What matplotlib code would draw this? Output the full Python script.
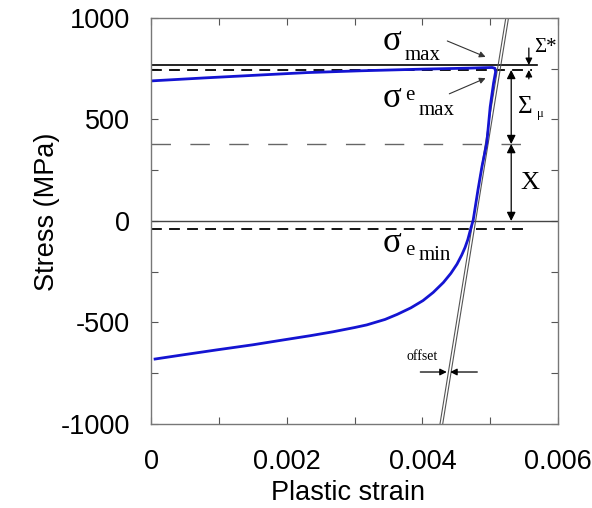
import numpy as np
import matplotlib
matplotlib.use("Agg")
import matplotlib.pyplot as plt

plt.rcParams['axes.unicode_minus'] = False

# 数据: 应力-塑性应变滞回曲线 (下支 -> 上升段 -> 上支)
strain = [0.00006, 0.00050, 0.00097, 0.00150, 0.00195, 0.00235, 0.00268, 0.00300,
          0.00318, 0.00345, 0.00363, 0.00383, 0.00401, 0.00416, 0.00431, 0.00442,
          0.00451, 0.00458, 0.00463, 0.00467, 0.00471, 0.00475, 0.00482,
          0.00488, 0.00495, 0.00500, 0.00505, 0.00508, 0.00507, 0.00503,
          0.00490, 0.00470, 0.00400, 0.00310, 0.00230, 0.00160, 0.00080, 0.0]
stress = [-680, -658, -635, -610, -586, -565, -546, -525,
          -512, -485, -460, -428, -392, -352, -303, -258,
          -213, -168, -130, -92, -42, 5, 153,
          270, 384, 562, 680, 735, 752, 756,
          755, 753, 748, 740, 731, 719, 705, 690]

# 弹性卸载线 (两条平行线)
elastic_strain = [0.00426, 0.00523]
elastic_stress = [-1000, 1000]
offset_shift = 0.00004

# 水平参考线
sigma_max = 768
sigma_e_max = 744
back_stress = 379
sigma_e_min = -39

serif = 'Liberation Serif'
sans = 'Liberation Sans'
fs = 19.5

fig = plt.figure(figsize=(5.92, 5.08), dpi=100)
ax = fig.add_axes([0.2551, 0.1654, 0.6875, 0.7992])

# 参考线
ax.plot([0, 0.00569], [sigma_max, sigma_max], color='black', lw=1.2)
ax.plot([0, 0.00562], [sigma_e_max, sigma_e_max], color='black', lw=1.3, dashes=(6, 4))
ax.plot([0, 0.00569], [back_stress, back_stress], color='#666666', lw=1.0, dashes=(14, 14))
ax.axhline(0, color='#444444', lw=1.0)
ax.plot([0, 0.00559], [sigma_e_min, sigma_e_min], color='black', lw=1.3, dashes=(6, 4))

# 弹性线
ax.plot(elastic_strain, elastic_stress, color='#555555', lw=0.8)
ax.plot(np.array(elastic_strain) + offset_shift, elastic_stress, color='#555555', lw=0.8)

# 曲线
ax.plot(strain, stress, color='#1414d2', lw=2.0, solid_joinstyle='round')

ax.set_xlim(0, 0.006)
ax.set_ylim(-1000, 1000)
ax.set_xticks([0, 0.002, 0.004, 0.006])
ax.set_xticklabels(['0', '0.002', '0.004', '0.006'])
ax.set_xticks([0.001, 0.003, 0.005], minor=True)
ax.set_yticks([-1000, -500, 0, 500, 1000])
ax.set_yticks([-750, -250, 250, 750], minor=True)
ax.tick_params(which='both', direction='in', top=True, right=True, color='#555555',
               length=5, width=0.8, labelsize=fs)
ax.tick_params(axis='x', which='both', pad=18)
ax.tick_params(axis='y', which='both', pad=15)
for lab in ax.get_xticklabels() + ax.get_yticklabels():
    lab.set_family(sans)
for s in ax.spines.values():
    s.set_color('#777777')
    s.set_linewidth(1.0)

ax.set_xlabel('Plastic strain', fontsize=fs, family=sans)
ax.set_ylabel('Stress (MPa)', fontsize=fs, family=sans)
ax.xaxis.set_label_coords(0.483, -0.138)
ax.yaxis.set_label_coords(-0.224, 0.522)

# 标注
ax.text(0.00342, 842, 'σ', fontsize=25, family=serif, va='baseline')
ax.text(0.00374, 793, 'max', fontsize=15, family=serif, va='baseline')
ax.text(0.00342, 562, 'σ', fontsize=25, family=serif, va='baseline')
ax.text(0.00374, 596, 'e', fontsize=15, family=serif, va='baseline')
ax.text(0.00394, 522, 'max', fontsize=15, family=serif, va='baseline')
ax.text(0.00342, -153, 'σ', fontsize=25, family=serif, va='baseline')
ax.text(0.00374, -167, 'e', fontsize=15, family=serif, va='baseline')
ax.text(0.00394, -192, 'min', fontsize=15, family=serif, va='baseline')

thin = dict(arrowstyle='-|>', color='#333333', lw=0.8, mutation_scale=9)
ax.annotate('', xy=(0.00497, 803), xytext=(0.00433, 892), arrowprops=thin)
ax.annotate('', xy=(0.00497, 709), xytext=(0.00436, 621), arrowprops=thin)

big = dict(arrowstyle='<|-|>', color='black', lw=0.9, mutation_scale=13, shrinkA=0, shrinkB=0)
ax.annotate('', xy=(0.00531, sigma_e_max), xytext=(0.00531, back_stress), arrowprops=big)
ax.annotate('', xy=(0.00531, back_stress), xytext=(0.00531, 0), arrowprops=big)

one = dict(arrowstyle='-|>', color='black', lw=0.9, mutation_scale=10, shrinkA=0, shrinkB=0)
ax.annotate('', xy=(0.00557, sigma_max), xytext=(0.00557, 852), arrowprops=one)
ax.annotate('', xy=(0.00557, sigma_e_max), xytext=(0.00557, 700), arrowprops=one)

ax.text(0.00565, 830, 'Σ*', fontsize=15, family=serif, va='baseline', clip_on=False)
ax.text(0.00541, 530, 'Σ', fontsize=18, family=serif, va='baseline', clip_on=False)
ax.text(0.00569, 510, 'μ', fontsize=9, family=serif, va='baseline', clip_on=False)
ax.text(0.00544, 187, 'X', fontsize=19, family=serif, va='center')

# offset
ax.annotate('', xy=(0.00436, -744), xytext=(0.00397, -744), arrowprops=one)
ax.annotate('', xy=(0.00441, -744), xytext=(0.00481, -744), arrowprops=one)
ax.text(0.0040, -670, 'offset', fontsize=10, family=serif, ha='center', va='center')

plt.savefig('out.png', dpi=100)
